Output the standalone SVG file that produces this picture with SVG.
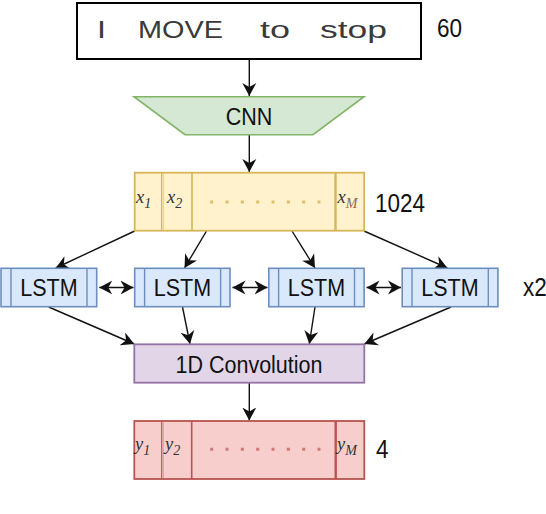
<svg xmlns="http://www.w3.org/2000/svg" width="546" height="514" viewBox="0 0 546 514">
<style>
text{font-family:"Liberation Sans",Arial,sans-serif;fill:#111}
.lbl{font-size:21.5px;text-anchor:middle}
.side{font-size:22.5px}
.var{font-family:"Liberation Serif","Times New Roman",serif;font-style:italic;font-size:18.5px;fill:#333}
.sub{font-size:14px}
.hand{font-size:24px;fill:#3a3a3a}
.edge{stroke:#111;stroke-width:1.4;fill:none;marker-end:url(#ah)}
.bi{stroke:#111;stroke-width:1.4;fill:none;marker-end:url(#ah);marker-start:url(#ah)}
.lstm rect{fill:#dae8fc;stroke:#6c8ebf;stroke-width:1.6}
.lstm line{stroke:#6c8ebf;stroke-width:1.4}
</style>
<defs>
<marker id="ah" markerUnits="userSpaceOnUse" markerWidth="16" markerHeight="16" refX="13" refY="7.5" orient="auto-start-reverse">
<path d="M0,0.5 L13,7.5 L0,14.5 L4,7.5 z" fill="#111"/>
</marker>
</defs>
<rect width="546" height="514" fill="#fff"/>

<g id="connectors">
<line class="edge" x1="249.3" y1="59" x2="249.3" y2="96"/>
<line class="edge" x1="249.3" y1="135" x2="249.3" y2="172"/>
<line class="edge" x1="134.7" y1="231" x2="55.7" y2="268"/>
<line class="edge" x1="206.5" y1="231" x2="184.5" y2="268"/>
<line class="edge" x1="292" y1="231" x2="315" y2="268"/>
<line class="edge" x1="364" y1="231" x2="447.4" y2="268"/>
<line class="bi" x1="99.3" y1="287.5" x2="133.5" y2="287.5"/>
<line class="bi" x1="232.5" y1="287.5" x2="267.5" y2="287.5"/>
<line class="bi" x1="366.5" y1="287.5" x2="401" y2="287.5"/>
<line class="edge" x1="48.7" y1="307" x2="134.3" y2="344"/>
<line class="edge" x1="182.5" y1="307" x2="190" y2="344"/>
<line class="edge" x1="315" y1="307" x2="309.3" y2="344"/>
<line class="edge" x1="451" y1="307" x2="364.3" y2="344"/>
<line class="edge" x1="249.3" y1="383" x2="249.3" y2="420.5"/>
</g>

<g id="input">
<rect x="77" y="3" width="344" height="56" fill="#fff" stroke="#000" stroke-width="2"/>
<text class="hand" x="97" y="38" textLength="9" lengthAdjust="spacingAndGlyphs">I</text>
<text class="hand" x="138" y="38" textLength="85" lengthAdjust="spacingAndGlyphs">MOVE</text>
<text class="hand" x="260" y="38" textLength="30" lengthAdjust="spacingAndGlyphs">to</text>
<text class="hand" x="320" y="38" textLength="67" lengthAdjust="spacingAndGlyphs">stop</text>
<text class="side" transform="translate(437,37) scale(1,1.13)">60</text>
</g>

<g id="cnn">
<polygon points="134,96.7 364,96.7 313,134.7 185,134.7" fill="#d5e8d4" stroke="#82b366" stroke-width="1.6"/>
<text class="lbl" transform="translate(249,125) scale(1,1.13)">CNN</text>
</g>

<g id="features">
<rect x="134.7" y="172.7" width="229.5" height="58" fill="#fff2cc" stroke="#d6b656" stroke-width="1.8"/>
<line x1="161.7" y1="172.7" x2="161.7" y2="230.7" stroke="#d6b656" stroke-width="1.3"/>
<line x1="163.5" y1="174" x2="163.5" y2="229.5" stroke="#e6d6a6" stroke-width="1.2"/>
<line x1="192" y1="172.7" x2="192" y2="230.7" stroke="#d6b656" stroke-width="1.6"/>
<line x1="335.5" y1="172.7" x2="335.5" y2="230.7" stroke="#d6b656" stroke-width="2.4"/>
<line x1="210.2" y1="202" x2="321" y2="202" stroke="#dcc070" stroke-width="3" stroke-dasharray="3 12.33"/>
<text class="var" x="136" y="203">x<tspan class="sub" dy="5">1</tspan></text>
<text class="var" x="167" y="203">x<tspan class="sub" dy="5">2</tspan></text>
<text class="var" x="337.5" y="203">x<tspan class="sub" dy="5" fill="#8a6a5a">M</tspan></text>
<text class="side" transform="translate(375,212) scale(1,1.13)">1024</text>
</g>

<g id="lstm1" class="lstm">
<rect x="1" y="268.3" width="95.7" height="38.4"/>
<line x1="11" y1="268.3" x2="11" y2="306.7"/><line x1="87" y1="268.3" x2="87" y2="306.7"/>
<text class="lbl" transform="translate(48.9,296) scale(1,1.13)">LSTM</text>
</g>
<g id="lstm2" class="lstm">
<rect x="134.7" y="268.3" width="95.3" height="38.4"/>
<line x1="144.6" y1="268.3" x2="144.6" y2="306.7"/><line x1="220.6" y1="268.3" x2="220.6" y2="306.7"/>
<text class="lbl" transform="translate(182.4,296) scale(1,1.13)">LSTM</text>
</g>
<g id="lstm3" class="lstm">
<rect x="268.8" y="268.3" width="95.3" height="38.4"/>
<line x1="278.6" y1="268.3" x2="278.6" y2="306.7"/><line x1="354.5" y1="268.3" x2="354.5" y2="306.7"/>
<text class="lbl" transform="translate(316.5,296) scale(1,1.13)">LSTM</text>
</g>
<g id="lstm4" class="lstm">
<rect x="402.2" y="268.3" width="95.7" height="38.4"/>
<line x1="412" y1="268.3" x2="412" y2="306.7"/><line x1="488.3" y1="268.3" x2="488.3" y2="306.7"/>
<text class="lbl" transform="translate(450,296) scale(1,1.13)">LSTM</text>
</g>
<g id="repeat"><text class="side" transform="translate(523,296) scale(1,1.13)">x2</text></g>

<g id="conv">
<rect x="134.3" y="344.3" width="230" height="38.4" fill="#e1d5e7" stroke="#9673a6" stroke-width="1.8"/>
<text class="lbl" transform="translate(249,373) scale(1,1.13)">1D Convolution</text>
</g>

<g id="output">
<rect x="134.3" y="421" width="230" height="58" fill="#f8cecc" stroke="#b85450" stroke-width="1.8"/>
<line x1="161.7" y1="421" x2="161.7" y2="479" stroke="#b85450" stroke-width="1.2"/>
<line x1="163.3" y1="422.5" x2="163.3" y2="477.5" stroke="#e0a0a0" stroke-width="1.2"/>
<line x1="191.7" y1="421" x2="191.7" y2="479" stroke="#b85450" stroke-width="1.6"/>
<line x1="335.7" y1="421" x2="335.7" y2="479" stroke="#b85450" stroke-width="2.4"/>
<line x1="210.2" y1="449.3" x2="321" y2="449.3" stroke="#d07878" stroke-width="3" stroke-dasharray="3 12.33"/>
<text class="var" x="135" y="450">y<tspan class="sub" dy="5">1</tspan></text>
<text class="var" x="165" y="450">y<tspan class="sub" dy="5">2</tspan></text>
<text class="var" x="337" y="450">y<tspan class="sub" dy="5">M</tspan></text>
<text class="side" transform="translate(376,458) scale(1,1.13)">4</text>
</g>
</svg>
